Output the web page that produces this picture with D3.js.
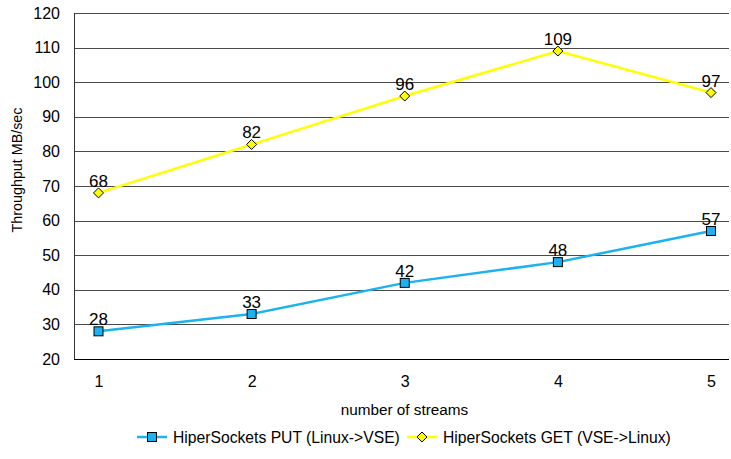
<!DOCTYPE html>
<html>
<head>
<meta charset="utf-8">
<script src="https://cdn.jsdelivr.net/npm/d3@7"></script>
<style>
  html, body { margin: 0; padding: 0; background: #fff; }
  svg { display: block; font-family: "Liberation Sans", Arial, sans-serif; }
</style>
</head>
<body>
<svg id="chart" width="731" height="459"></svg>
<script>
// Throughput per number of parallel streams
const streams = [1, 2, 3, 4, 5];
const putValues = [28, 33, 42, 48, 57];   // HiperSockets PUT (Linux->VSE)
const getValues = [68, 82, 96, 109, 97];  // HiperSockets GET (VSE->Linux)
const yTicks = [20, 30, 40, 50, 60, 70, 80, 90, 100, 110, 120];
const seriesNames = ["HiperSockets PUT (Linux->VSE)", "HiperSockets GET (VSE->Linux)"];
const xTitle = "number of streams";
const yTitle = "Throughput MB/sec";

const svg = d3.select("#chart");
const plot = { left: 74, right: 729, top: 13, bottom: 359 };

const x = d3.scalePoint().domain(streams).range([98.5, 711]);
const y = d3.scaleLinear().domain([20, 120]).range([plot.bottom, plot.top]);

const series = [
  { name: seriesNames[0], values: putValues, color: "#1ab2f0", marker: "square" },
  { name: seriesNames[1], values: getValues, color: "#ffff00", marker: "diamond" }
];

// horizontal gridlines
svg.append("g")
  .selectAll("line")
  .data(yTicks)
  .join("line")
  .attr("x1", plot.left)
  .attr("x2", plot.right)
  .attr("y1", d => Math.round(y(d)) + 0.5)
  .attr("y2", d => Math.round(y(d)) + 0.5)
  .attr("stroke", "#4a4a4a")
  .attr("stroke-width", 1);

// y axis (labels only, line drawn separately)
const yAxis = d3.axisLeft(y).tickValues(yTicks).tickSize(0).tickPadding(14);
const gy = svg.append("g").attr("transform", `translate(${plot.left},0)`).call(yAxis);
gy.select(".domain").remove();
gy.selectAll("text").attr("font-size", 16).attr("fill", "#000")
  .attr("font-family", "Liberation Sans, Arial, sans-serif");

// x axis labels
const xAxis = d3.axisBottom(x).tickSize(0).tickPadding(17);
const gx = svg.append("g").attr("transform", `translate(0,${plot.bottom})`).call(xAxis);
gx.select(".domain").remove();
gx.selectAll("text").attr("font-size", 16).attr("fill", "#000")
  .attr("font-family", "Liberation Sans, Arial, sans-serif");

// axis lines
svg.append("line")
  .attr("x1", plot.left + 0.5).attr("x2", plot.left + 0.5)
  .attr("y1", plot.top).attr("y2", plot.bottom + 1)
  .attr("stroke", "#333").attr("stroke-width", 1);
svg.append("line")
  .attr("x1", plot.left).attr("x2", plot.right)
  .attr("y1", plot.bottom + 0.5).attr("y2", plot.bottom + 0.5)
  .attr("stroke", "#000").attr("stroke-width", 1);

// axis titles
svg.append("text")
  .attr("x", (plot.left + plot.right) / 2 + 3)
  .attr("y", 415)
  .attr("text-anchor", "middle")
  .attr("font-size", 15.3)
  .text(xTitle);

svg.append("text")
  .attr("transform", "translate(22,170) rotate(-90)")
  .attr("text-anchor", "middle")
  .attr("font-size", 14.3)
  .text(yTitle);

const line = d3.line().x((d, i) => x(streams[i])).y(d => y(d));

function drawMarker(g, type, color) {
  if (type === "square") {
    g.append("rect")
      .attr("x", -4.5).attr("y", -4.5).attr("width", 9).attr("height", 9)
      .attr("fill", color).attr("stroke", "#000").attr("stroke-width", 1);
  } else {
    g.append("path")
      .attr("d", "M0,-5L5,0L0,5L-5,0Z")
      .attr("fill", color).attr("stroke", "#000").attr("stroke-width", 1);
  }
}

series.forEach(s => {
  const g = svg.append("g");
  g.append("path")
    .datum(s.values)
    .attr("d", line)
    .attr("fill", "none")
    .attr("stroke", s.color)
    .attr("stroke-width", 2.5);

  s.values.forEach((v, i) => {
    const m = g.append("g").attr("transform", `translate(${x(streams[i])},${y(v)})`);
    drawMarker(m, s.marker, s.color);
  });

  g.selectAll("text.value")
    .data(s.values)
    .join("text")
    .attr("class", "value")
    .attr("x", (d, i) => x(streams[i]))
    .attr("y", d => y(d) - 6)
    .attr("text-anchor", "middle")
    .attr("font-size", 17)
    .attr("fill", "#000")
    .text(d => d);
});

// legend
const legendItems = [
  { s: series[0], x: 137 },
  { s: series[1], x: 407 }
];
legendItems.forEach(item => {
  const g = svg.append("g").attr("transform", `translate(${item.x},437)`);
  g.append("line").attr("x1", 0).attr("x2", 30).attr("y1", 0).attr("y2", 0)
    .attr("stroke", item.s.color).attr("stroke-width", 2.5);
  const m = g.append("g").attr("transform", "translate(15,0)");
  drawMarker(m, item.s.marker, item.s.color);
  g.append("text").attr("x", 36).attr("y", 5.5)
    .attr("font-size", 15.7).attr("fill", "#000")
    .text(item.s.name);
});
</script>
</body>
</html>
